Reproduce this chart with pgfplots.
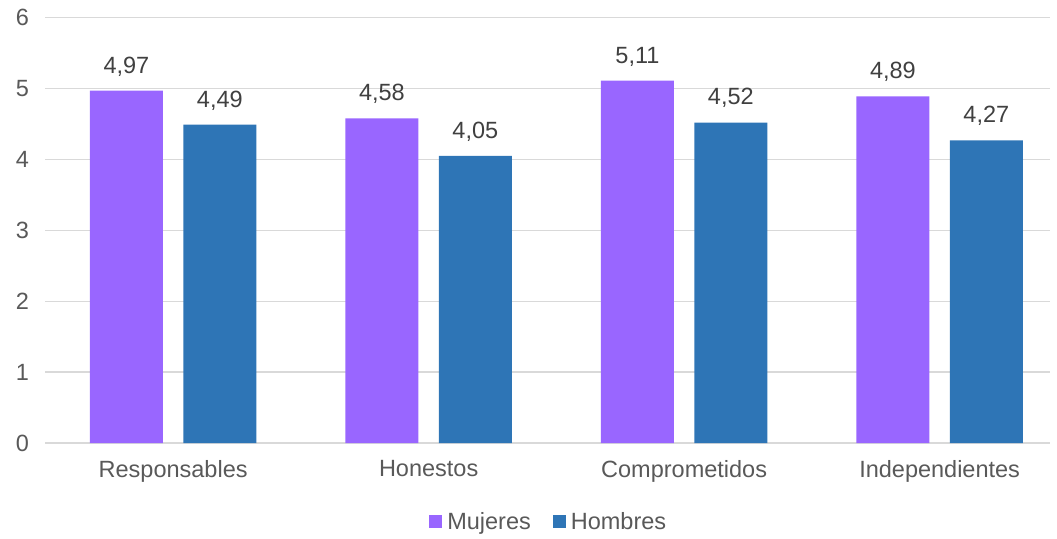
\documentclass[border=0pt]{standalone}
\usepackage{pgfplots}
\pgfplotsset{compat=1.18}
\usepackage{fontspec}
\setmainfont{Liberation Sans}
\definecolor{mujer}{HTML}{9966FF}
\definecolor{hombre}{HTML}{2E75B6}
\definecolor{gridc}{HTML}{D9D9D9}
\definecolor{labc}{HTML}{595959}
\definecolor{valc}{HTML}{404040}
\begin{document}
\begin{tikzpicture}
\path[use as bounding box] (0pt,0pt) rectangle (1057pt,538pt);
\begin{axis}[
  at={(45.4pt,95pt)}, anchor=south west,
  scale only axis, width=1004.6pt, height=425.4pt,
  xmin=-0.5, xmax=3.432, ymin=0, ymax=6,
  ytick={0,1,2,3,4,5,6},
  xtick={0,1,2,3},
  xticklabels={Responsables,Honestos,Comprometidos,Independientes},
  axis lines=left,
  x axis line style={draw=gridc, line width=1.2pt, -},
  y axis line style={draw=none},
  major tick length=0pt,
  ymajorgrids, grid style={draw=gridc, line width=1.2pt},
  tick label style={font=\fontsize{23.5}{28}\selectfont, text=labc},
  /pgf/number format/assume math mode=true,
  yticklabel style={xshift=-13pt},
  xticklabel style={yshift=-14pt},
  ybar, bar width=73pt,
  nodes near coords,
  nodes near coords style={font=\fontsize{23.5}{28}\selectfont, text=valc, yshift=11pt,
     /pgf/number format/.cd, fixed, fixed zerofill, precision=2, use comma, assume math mode=true},
  legend style={at={(0.501,-0.186)}, anchor=center, draw=none, fill=none,
     legend columns=2, font=\fontsize{23.5}{28}\selectfont, text=labc,
     /tikz/every odd column/.append style={column sep=3pt},
     /tikz/every even column/.append style={column sep=20pt}},
  legend image code/.code={\fill[#1] (0pt,-6pt) rectangle (13pt,7pt);},
]
\addplot[fill=mujer, draw=none, bar shift=-46.7pt] coordinates {(0,4.97) (1,4.58) (2,5.11) (3,4.89)};
\addplot[fill=hombre, draw=none, bar shift=46.7pt] coordinates {(0,4.49) (1,4.05) (2,4.52) (3,4.27)};
\legend{Mujeres,Hombres}
\end{axis}
\end{tikzpicture}
\end{document}
